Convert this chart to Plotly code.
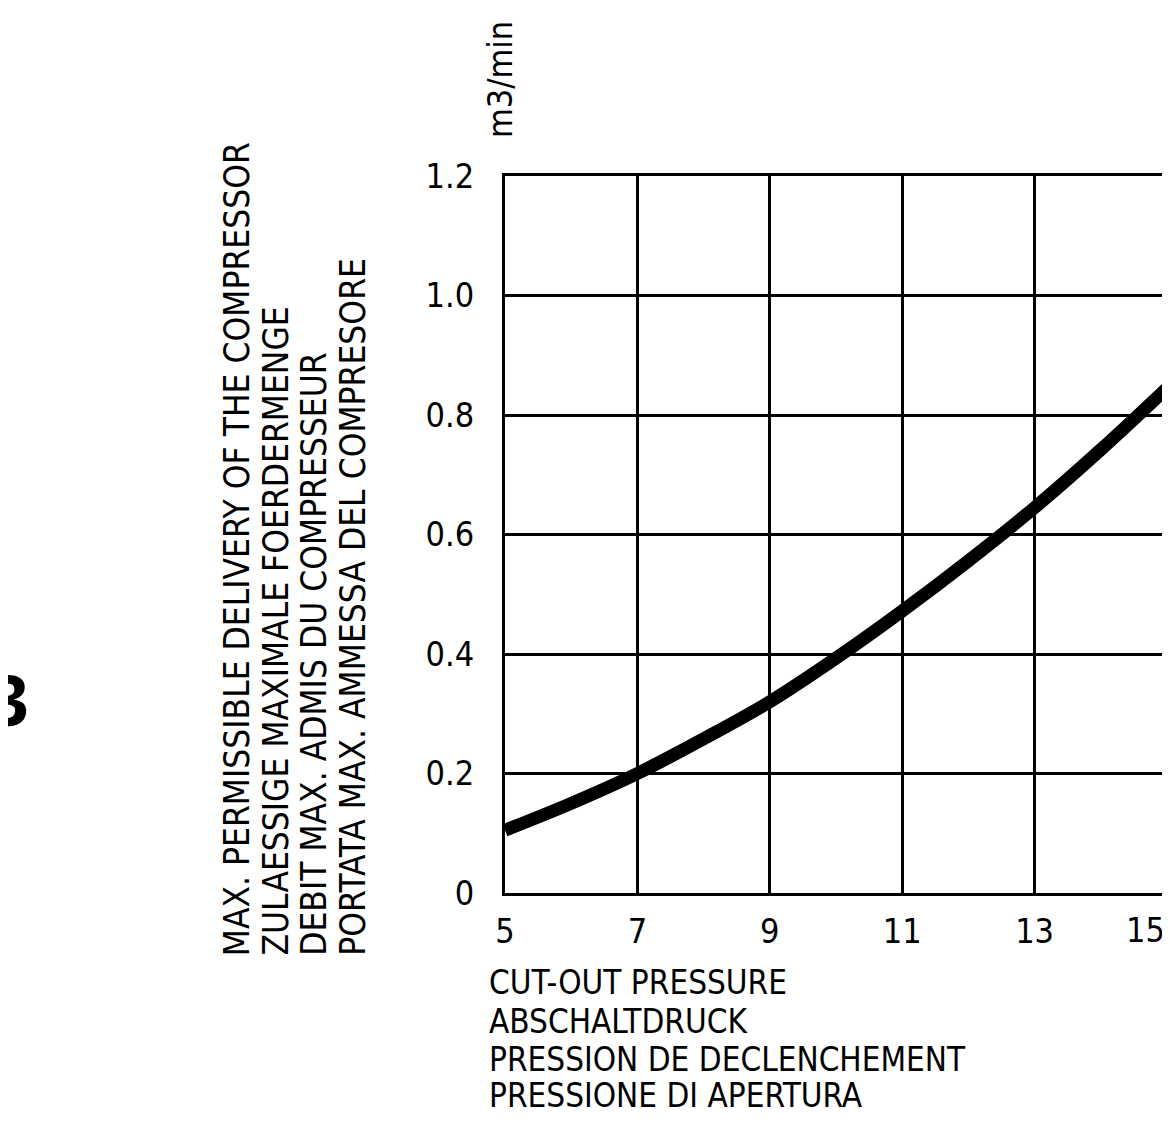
import plotly.graph_objects as go

# Data
pressure = [5, 6, 7, 8, 9, 10, 11, 12, 13, 14, 15]
delivery = [0.105, 0.15, 0.2, 0.258, 0.32, 0.393, 0.472, 0.556, 0.645, 0.742, 0.845]

x_ticks = [5, 7, 9, 11, 13, 15]
y_ticks = [0, 0.2, 0.4, 0.6, 0.8, 1.0, 1.2]
y_tick_text = ["0", "0.2", "0.4", "0.6", "0.8", "1.0", "1.2"]

y_title_lines = [
    "MAX. PERMISSIBLE DELIVERY OF THE COMPRESSOR",
    "ZULAESSIGE MAXIMALE FOERDERMENGE",
    "DEBIT MAX. ADMIS DU COMPRESSEUR",
    "PORTATA MAX. AMMESSA DEL COMPRESORE",
]
x_title_lines = [
    "CUT-OUT PRESSURE",
    "ABSCHALTDRUCK",
    "PRESSION DE DECLENCHEMENT",
    "PRESSIONE DI APERTURA",
]
unit_label = "m3/min"
side_label = "3"

FONT = "DejaVu Sans Condensed, Liberation Sans Narrow, sans-serif"
OFF = 8  # page body margin
W, H = 1170 - OFF, 1145 - 2 * OFF
L, T = 505 - OFF, 176 - OFF
PW, PH = 665, 717
R = W - L - PW
B = H - T - PH


def px_x(p):
    return (p - OFF - L) / PW


def px_y(p):
    return (T + PH - (p - OFF)) / PH


# tick labels drawn by the axis; the last one sits on the window edge and is placed inside it
axis_tick_vals = x_ticks[:-1]
edge_tick = x_ticks[-1]

fig = go.Figure()
fig.add_trace(go.Scatter(
    x=pressure, y=delivery, mode="lines",
    line=dict(color="black", width=13, shape="spline"),
    showlegend=False, hoverinfo="skip",
))

annotations = []
y_line_x = [236, 274, 313, 352]
for txt, xc in zip(y_title_lines, y_line_x):
    annotations.append(dict(
        text=txt, xref="paper", yref="paper", x=px_x(xc), y=px_y(958),
        xanchor="center", yanchor="bottom", textangle=-90, showarrow=False,
        font=dict(family=FONT, size=35, color="black"),
    ))

x_line_y = [982, 1021, 1059, 1095]
for txt, yc in zip(x_title_lines, x_line_y):
    annotations.append(dict(
        text=txt, xref="paper", yref="paper", x=px_x(487), y=px_y(yc),
        xanchor="left", yanchor="middle", showarrow=False,
        font=dict(family=FONT, size=33, color="black"),
    ))

annotations.append(dict(
    text=str(edge_tick), xref="x", yref="paper", x=edge_tick, y=px_y(930),
    xanchor="right", yanchor="middle", showarrow=False,
    font=dict(family=FONT, size=34, color="black"),
))
annotations.append(dict(
    text=unit_label, xref="paper", yref="paper", x=px_x(500), y=px_y(80),
    xanchor="center", yanchor="middle", textangle=-90, showarrow=False,
    font=dict(family=FONT, size=34, color="black"),
))
annotations.append(dict(
    text="<b>" + side_label + "</b>", xref="paper", yref="paper", x=px_x(29), y=px_y(699),
    xanchor="right", yanchor="middle", showarrow=False,
    font=dict(family="Noto Sans", size=70, color="black"),
))

fig.update_layout(
    width=W, height=H,
    margin=dict(l=L, r=R, t=T, b=B, pad=0),
    paper_bgcolor="white", plot_bgcolor="white",
    annotations=annotations,
    font=dict(family=FONT, size=34, color="black"),
    xaxis=dict(
        range=[5, 15], tickvals=axis_tick_vals, ticktext=[str(v) for v in axis_tick_vals],
        showgrid=True, gridcolor="black", gridwidth=3,
        showline=True, linecolor="black", linewidth=3, mirror=True,
        zeroline=False, ticks="", ticklabelstandoff=6,
        tickfont=dict(family=FONT, size=34, color="black"),
    ),
    yaxis=dict(
        range=[0, 1.2], tickvals=y_ticks, ticktext=y_tick_text,
        showgrid=True, gridcolor="black", gridwidth=3,
        showline=True, linecolor="black", linewidth=3, mirror=True,
        zeroline=False, ticks="", ticklabelstandoff=21,
        tickfont=dict(family=FONT, size=34, color="black"),
    ),
)

fig.write_html("out.html")
